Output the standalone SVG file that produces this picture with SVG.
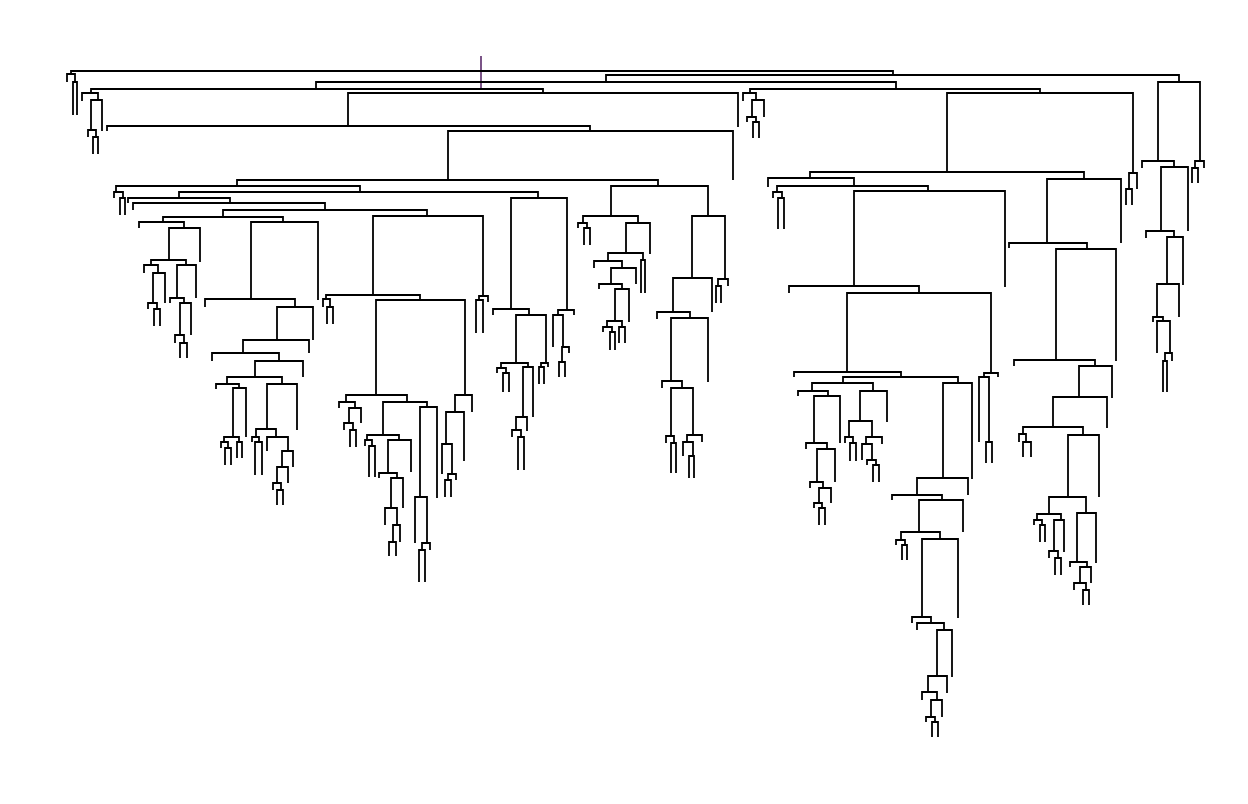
<svg xmlns="http://www.w3.org/2000/svg" width="1248" height="804" viewBox="0 0 1248 804">
<style>
path{fill:none;stroke:#000;stroke-width:1.8}
.root{stroke:#5a2a6a;stroke-width:1.6}
</style>
<rect width="1248" height="804" fill="#fff"/>
<g id="connectors">
<g id="top">
<path class="root" d="M481 56V88"/>
<path d="M71 74V71H893V75"/>
<path d="M67 82V74H75V82"/>
<path d="M73 115V82H77V115"/>
<path d="M606 82V75H1179V82"/>
<path d="M316 89V82H896V89"/>
<path d="M91 93V89H543V93"/>
<path d="M82 101V93H98V100"/>
<path d="M91 130V100H102V131"/>
<path d="M88 137V130H96V137"/>
<path d="M93 154V137H98V154"/>
<path d="M348 126V93H738V127"/>
<path d="M107 131V126H590V131"/>
<path d="M448 180V131H733V180"/>
<path d="M237 186V180H658V186"/>
</g>
<g id="clade-left">
<path d="M116 192V186H360V192"/>
<path d="M114 198V192H123V198"/>
<path d="M120 215V198H125V215"/>
<path d="M179 198V192H538V198"/>
<path d="M128 203V198H230V203"/>
<path d="M133 210V203H325V210"/>
<path d="M223 217V210H427V216"/>
<path d="M163 222V217H283V222"/>
<path d="M139 228V222H184V228"/>
<path d="M169 260V228H200V262"/>
<path d="M151 265V260H186V265"/>
<path d="M144 273V265H158V273"/>
<path d="M153 303V273H165V303"/>
<path d="M148 309V303H157V309"/>
<path d="M154 326V309H160V326"/>
<path d="M177 298V265H196V298"/>
<path d="M170 303V298H184V303"/>
<path d="M180 335V303H191V335"/>
<path d="M175 343V335H184V343"/>
<path d="M180 358V343H187V358"/>
<path d="M251 299V222H318V300"/>
<path d="M205 307V299H295V307"/>
<path d="M277 340V307H313V340"/>
<path d="M243 353V340H309V353"/>
<path d="M212 361V353H279V361"/>
<path d="M255 377V361H303V377"/>
<path d="M227 384V377H282V384"/>
<path d="M216 389V384H239V388"/>
<path d="M233 437V388H246V437"/>
<path d="M224 442V437H239V442"/>
<path d="M221 448V442H228V448"/>
<path d="M225 465V448H231V465"/>
<path d="M237 458V442H242V458"/>
<path d="M267 429V384H297V430"/>
<path d="M256 437V429H276V437"/>
<path d="M252 442V437H259V442"/>
<path d="M255 475V442H262V475"/>
<path d="M267 451V437H288V451"/>
<path d="M282 467V451H293V467"/>
<path d="M277 483V467H288V483"/>
<path d="M273 490V483H281V490"/>
<path d="M277 505V490H283V505"/>
</g>
<g id="clade-mid">
<path d="M373 295V216H483V296"/>
<path d="M326 299V295H420V300"/>
<path d="M323 307V299H330V307"/>
<path d="M327 324V307H333V324"/>
<path d="M376 395V300H465V395"/>
<path d="M346 402V395H407V402"/>
<path d="M339 408V402H355V408"/>
<path d="M349 423V408H361V423"/>
<path d="M344 430V423H353V430"/>
<path d="M350 447V430H356V447"/>
<path d="M383 435V402H427V407"/>
<path d="M367 440V435H399V440"/>
<path d="M365 446V440H372V446"/>
<path d="M369 477V446H375V477"/>
<path d="M388 473V440H411V472"/>
<path d="M379 478V473H397V478"/>
<path d="M391 508V478H403V508"/>
<path d="M385 525V508H397V525"/>
<path d="M393 542V525H400V542"/>
<path d="M389 556V542H396V556"/>
<path d="M420 497V407H437V498"/>
<path d="M415 543V497H427V543"/>
<path d="M422 550V543H430V550"/>
<path d="M419 582V550H425V582"/>
<path d="M455 412V395H472V412"/>
<path d="M446 444V412H464V461"/>
<path d="M442 474V444H452V474"/>
<path d="M448 480V474H456V480"/>
<path d="M445 497V480H451V497"/>
<path d="M479 300V296H488V302"/>
<path d="M476 333V300H483V333"/>
<path d="M511 309V198H567V310"/>
<path d="M493 315V309H529V315"/>
<path d="M516 363V315H546V363"/>
<path d="M501 368V363H528V367"/>
<path d="M497 373V368H506V373"/>
<path d="M503 392V373H509V392"/>
<path d="M523 417V367H533V417"/>
<path d="M516 430V417H527V431"/>
<path d="M512 437V430H521V437"/>
<path d="M518 470V437H524V470"/>
<path d="M541 367V363H548V367"/>
<path d="M539 384V367H544V384"/>
<path d="M558 315V310H574V315"/>
<path d="M553 347V315H563V347"/>
<path d="M562 362V347H569V353"/>
<path d="M559 377V362H565V377"/>
</g>
<g id="clade-658">
<path d="M611 216V186H708V216"/>
<path d="M583 223V216H638V223"/>
<path d="M578 228V223H587V228"/>
<path d="M584 245V228H590V245"/>
<path d="M626 253V223H650V254"/>
<path d="M608 261V253H643V260"/>
<path d="M641 293V260H645V293"/>
<path d="M594 268V261H622V268"/>
<path d="M611 284V268H636V284"/>
<path d="M599 289V284H622V289"/>
<path d="M615 321V289H629V322"/>
<path d="M607 327V321H622V327"/>
<path d="M603 332V327H612V332"/>
<path d="M610 350V332H615V350"/>
<path d="M619 343V327H625V343"/>
<path d="M692 278V216H725V279"/>
<path d="M718 286V279H728V286"/>
<path d="M716 303V286H721V303"/>
<path d="M673 312V278H712V312"/>
<path d="M657 319V312H690V318"/>
<path d="M671 381V318H708V382"/>
<path d="M662 388V381H682V388"/>
<path d="M671 436V388H693V435"/>
<path d="M666 443V436H674V443"/>
<path d="M671 473V443H676V473"/>
<path d="M687 442V435H702V442"/>
<path d="M683 456V442H693V456"/>
<path d="M689 478V456H694V478"/>
</g>
<g id="clade-right">
<path d="M750 93V89H1040V93"/>
<path d="M743 101V93H756V100"/>
<path d="M752 117V100H764V117"/>
<path d="M747 122V117H756V122"/>
<path d="M753 138V122H759V138"/>
<path d="M947 172V93H1133V173"/>
<path d="M1129 189V173H1137V189"/>
<path d="M1126 205V189H1132V205"/>
<path d="M810 178V172H1084V179"/>
<path d="M768 187V178H854V186"/>
<path d="M777 192V186H928V191"/>
<path d="M773 198V192H782V198"/>
<path d="M778 229V198H784V229"/>
<path d="M854 286V191H1005V287"/>
<path d="M789 293V286H919V293"/>
<path d="M847 372V293H991V373"/>
<path d="M794 377V372H901V377"/>
<path d="M843 383V377H958V383"/>
<path d="M812 391V383H873V391"/>
<path d="M798 396V391H828V396"/>
<path d="M814 443V396H840V443"/>
<path d="M806 449V443H827V449"/>
<path d="M817 482V449H835V482"/>
<path d="M810 488V482H823V488"/>
<path d="M819 503V488H831V503"/>
<path d="M814 508V503H822V508"/>
<path d="M819 525V508H825V525"/>
<path d="M860 421V391H887V422"/>
<path d="M849 437V421H872V437"/>
<path d="M845 443V437H853V443"/>
<path d="M850 461V443H856V461"/>
<path d="M866 444V437H882V444"/>
<path d="M862 460V444H872V460"/>
<path d="M867 465V460H876V465"/>
<path d="M873 482V465H879V482"/>
<path d="M943 478V383H972V479"/>
<path d="M917 495V478H968V495"/>
<path d="M892 500V495H942V500"/>
<path d="M919 532V500H963V532"/>
<path d="M901 540V532H940V539"/>
<path d="M896 545V540H905V545"/>
<path d="M902 560V545H907V560"/>
<path d="M922 617V539H958V618"/>
<path d="M912 623V617H931V623"/>
<path d="M917 630V623H944V630"/>
<path d="M937 676V630H952V677"/>
<path d="M928 692V676H947V693"/>
<path d="M922 700V692H937V700"/>
<path d="M931 717V700H942V717"/>
<path d="M926 722V717H935V722"/>
<path d="M932 737V722H938V737"/>
<path d="M984 377V373H998V377"/>
<path d="M979 442V377H989V442"/>
<path d="M986 463V442H992V463"/>
<path d="M1047 243V179H1121V243"/>
<path d="M1009 248V243H1087V249"/>
<path d="M1056 360V249H1116V361"/>
<path d="M1014 366V360H1095V366"/>
<path d="M1079 397V366H1112V398"/>
<path d="M1053 427V397H1107V428"/>
<path d="M1023 434V427H1083V435"/>
<path d="M1019 442V434H1026V442"/>
<path d="M1023 457V442H1031V457"/>
<path d="M1068 497V435H1099V497"/>
<path d="M1049 514V497H1086V513"/>
<path d="M1037 520V514H1061V520"/>
<path d="M1034 525V520H1042V525"/>
<path d="M1040 542V525H1045V542"/>
<path d="M1054 551V520H1064V552"/>
<path d="M1049 558V551H1058V558"/>
<path d="M1055 575V558H1061V575"/>
<path d="M1077 562V513H1096V563"/>
<path d="M1070 567V562H1087V567"/>
<path d="M1080 583V567H1091V583"/>
<path d="M1074 590V583H1086V590"/>
<path d="M1083 605V590H1089V605"/>
</g>
<g id="clade-far-right">
<path d="M1158 161V82H1200V161"/>
<path d="M1142 168V161H1174V167"/>
<path d="M1161 231V167H1188V231"/>
<path d="M1146 238V231H1174V237"/>
<path d="M1167 284V237H1183V285"/>
<path d="M1157 317V284H1179V317"/>
<path d="M1153 322V317H1163V321"/>
<path d="M1157 353V321H1170V353"/>
<path d="M1165 361V353H1172V361"/>
<path d="M1163 392V361H1167V392"/>
<path d="M1195 168V161H1204V168"/>
<path d="M1192 183V168H1198V183"/>
</g>
</g>
</svg>
